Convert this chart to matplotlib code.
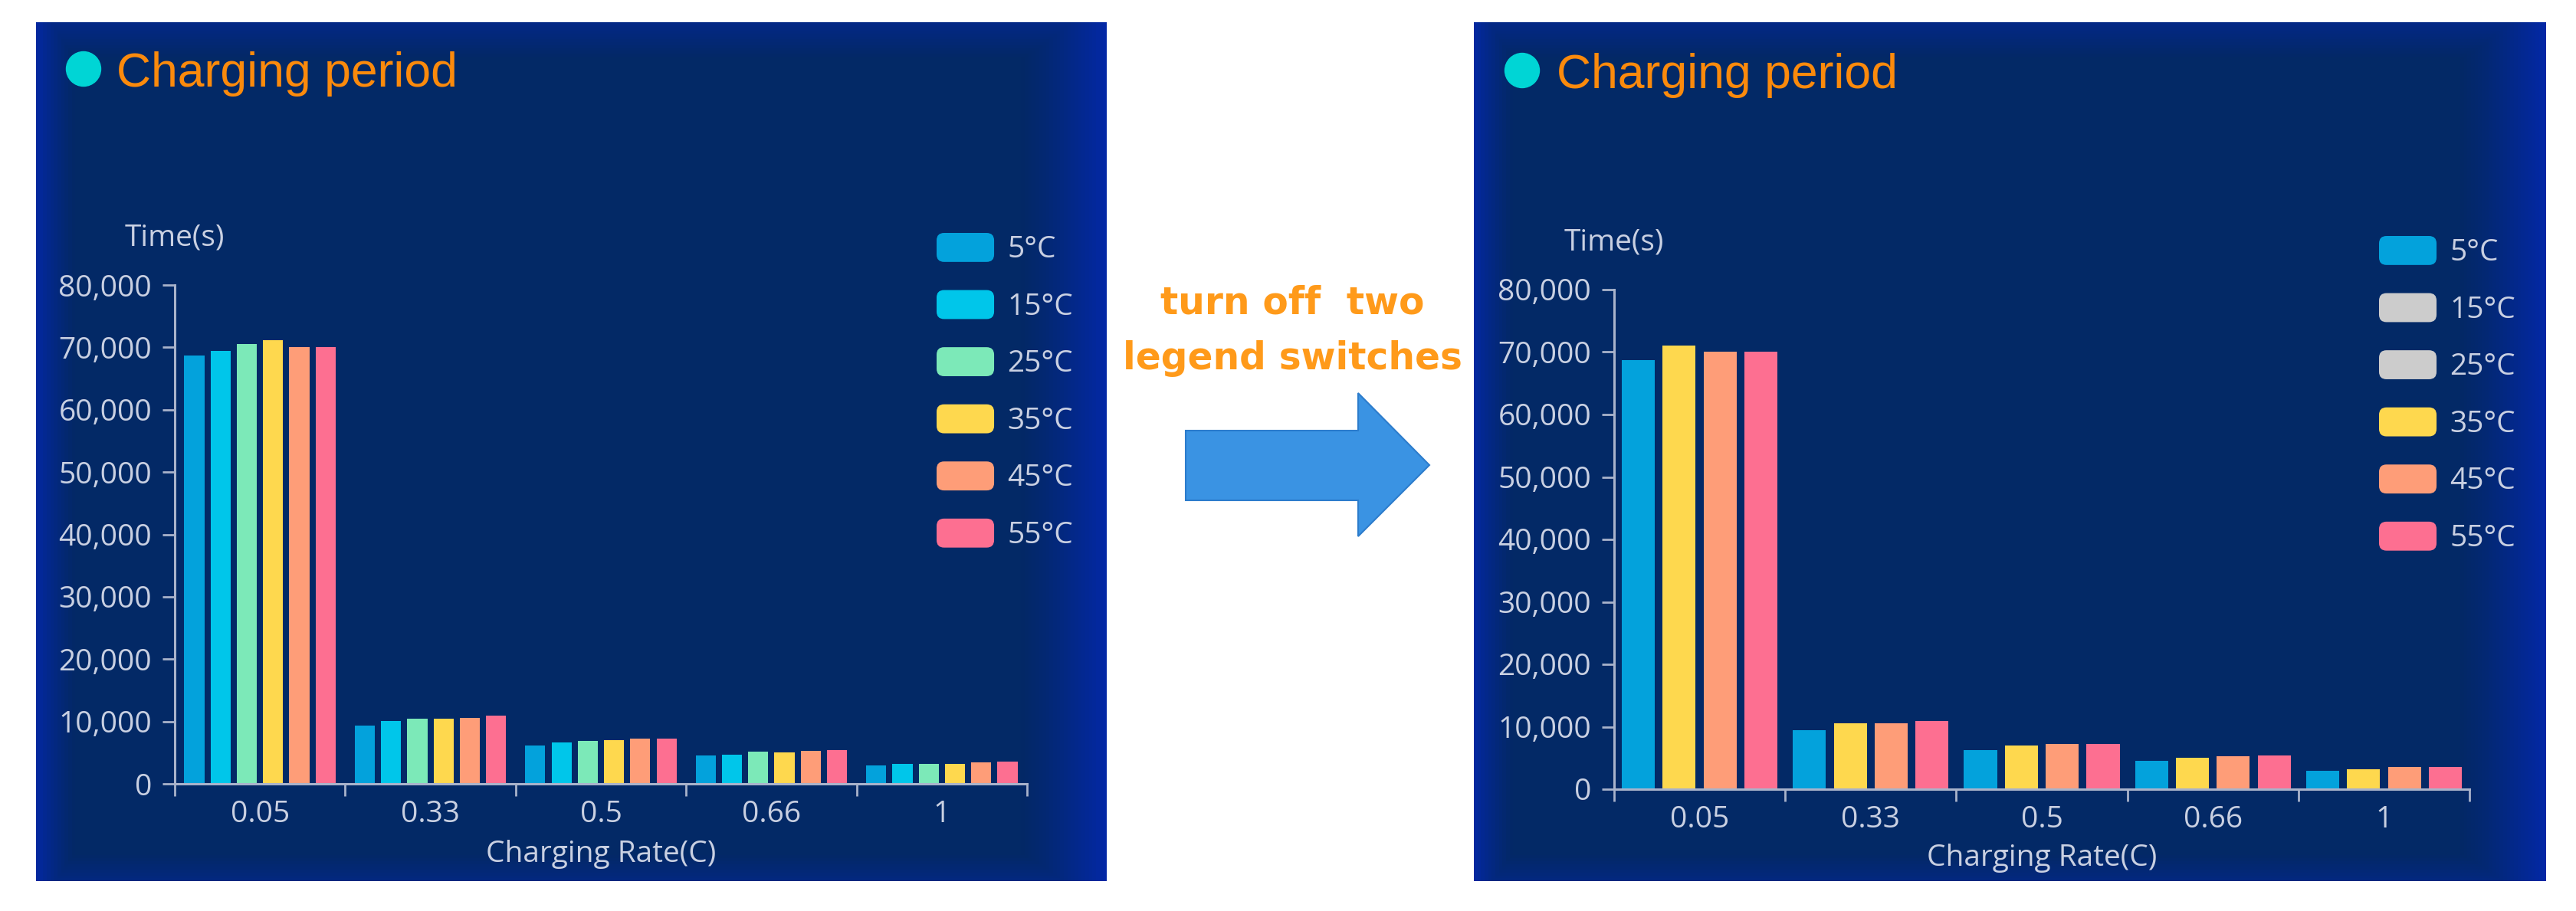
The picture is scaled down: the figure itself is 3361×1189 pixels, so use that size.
import numpy as np
import matplotlib
matplotlib.use('Agg')
import matplotlib.pyplot as plt
from matplotlib.patches import Patch, FancyBboxPatch, Polygon, Ellipse
from matplotlib.legend_handler import HandlerPatch
from matplotlib.ticker import FuncFormatter

# data (same data, two series hidden on the right)
rates = ['0.05', '0.33', '0.5', '0.66', '1']
temps = ['5°C', '15°C', '25°C', '35°C', '45°C', '55°C']
t5 = [68700, 9400, 6200, 4600, 2900]
t15 = [69400, 10100, 6600, 4700, 3150]
t25 = [70500, 10400, 6900, 5100, 3250]
t35 = [71100, 10500, 6950, 5000, 3250]
t45 = [70100, 10600, 7250, 5300, 3500]
t55 = [70100, 10900, 7300, 5450, 3550]
y_ticks = [0, 10000, 20000, 30000, 40000, 50000, 60000, 70000, 80000]
hidden_right = ['15°C', '25°C']

series = [t5, t15, t25, t35, t45, t55]
colors = ['#03a2dc', '#00c6ea', '#7ce9b8', '#fed84e', '#fe9d78', '#fd6f91']
off_color = '#cccccc'
txt_color = '#c9d0e2'
axis_color = '#a9b3cb'

W, H = 3361, 1189
fig = plt.figure(figsize=(W / 100, H / 100), dpi=100)
fig.patch.set_facecolor('white')

font = ['Open Sans', 'DejaVu Sans']


def box(x0, y0, x1, y1):
    # pixel box (top-left origin) -> figure fraction rect
    return [x0 / W, 1 - y1 / H, (x1 - x0) / W, (y1 - y0) / H]


def pt(x, y):
    return (x / W, 1 - y / H)


def rounded(legend, orig_handle, xdescent, ydescent, width, height, fontsize):
    return FancyBboxPatch((-xdescent, -ydescent), width, height,
                          boxstyle='round,pad=0,rounding_size=7')


def background(rect):
    bg = fig.add_axes(box(*rect), zorder=0)
    n = 300
    u, v = np.meshgrid(np.linspace(-1, 1, n), np.linspace(-1, 1, n))
    f = np.maximum.reduce([
        np.clip((u - 0.84) / 0.16, 0, 1) ** 1.3,
        np.clip((-u - 0.93) / 0.07, 0, 1) ** 1.2 * 0.9,
        np.clip((-v - 0.92) / 0.08, 0, 1) * 0.5,
        np.clip((v - 0.94) / 0.06, 0, 1) * 0.4,
    ])
    dark = np.array([3, 41, 102]) / 255
    bright = np.array([3, 40, 165]) / 255
    img = dark + f[..., None] * (bright - dark)
    bg.imshow(img, aspect='auto', extent=[0, 1, 0, 1])
    bg.axis('off')


def panel(rect, ax_rect, title_xy, legend_xy, hidden, bar_w, bar_gap, xlabel_y):
    background(rect)

    # title with cyan dot
    cx, cy, tx, ty = title_xy
    fig.add_artist(Ellipse(pt(cx, cy), 45 / W, 45 / H, color='#00d5d5', zorder=3))
    fig.text(tx / W, 1 - ty / H, 'Charging period', fontsize=45, color='#fb8a0c',
             family=['Liberation Sans', 'DejaVu Sans'], va='baseline', zorder=3)

    ax = fig.add_axes(box(*ax_rect), zorder=2)
    ax.set_facecolor('none')

    shown = [i for i, t in enumerate(temps) if t not in hidden]
    k = len(shown)
    x = np.arange(len(rates))
    stride = bar_w + bar_gap
    for j, i in enumerate(shown):
        off = (j - (k - 1) / 2) * stride
        ax.bar(x + off, series[i], width=bar_w, color=colors[i], zorder=2)

    ax.set_xlim(-0.5, len(rates) - 0.5)
    ax.set_ylim(0, 80000)
    ax.set_yticks(y_ticks)
    ax.yaxis.set_major_formatter(FuncFormatter(lambda val, p: f'{int(val):,}'))
    ax.set_xticks(x, rates)
    ax.set_xticks(np.arange(len(rates) + 1) - 0.5, minor=True)

    for s in ['top', 'right']:
        ax.spines[s].set_visible(False)
    for s in ['left', 'bottom']:
        ax.spines[s].set_color(axis_color)
        ax.spines[s].set_linewidth(2.2)

    ax.tick_params(axis='y', colors=axis_color, length=11.5, width=2, pad=10,
                   labelcolor=txt_color, labelsize=28)
    ax.tick_params(axis='x', which='major', length=0, pad=15,
                   labelcolor=txt_color, labelsize=28)
    ax.tick_params(axis='x', which='minor', length=11.5, width=2, color=axis_color)
    for lab in ax.get_xticklabels() + ax.get_yticklabels():
        lab.set_family(font)

    ax.set_xlabel('Charging Rate(C)', fontsize=28, color=txt_color, family=font)
    ax.xaxis.set_label_coords(0.5, xlabel_y)
    ax.xaxis.label.set_va('center')
    ax.text(0, 1.094, 'Time(s)', transform=ax.transAxes, ha='center', va='center',
            fontsize=28, color=txt_color, family=font)

    handles = [Patch(facecolor=(off_color if t in hidden else c), label=t)
               for t, c in zip(temps, colors)]
    ax.legend(handles=handles, loc='upper left', bbox_to_anchor=pt(*legend_xy),
              bbox_transform=fig.transFigure, frameon=False,
              prop={'family': font, 'size': 28}, labelcolor=txt_color,
              handlelength=1.93, handleheight=1.12, labelspacing=0.86,
              handletextpad=0.45, borderpad=0, borderaxespad=0,
              handler_map={Patch: HandlerPatch(patch_func=rounded)})
    return ax


panel((47, 29, 1444, 1150), (228, 372, 1340, 1023), (109, 90, 152, 113),
      (1222, 304), [], 0.118, 0.036, -0.141)
panel((1923, 29, 3322, 1150), (2106, 378, 3222, 1030), (1986, 92, 2031, 115),
      (3104, 308), hidden_right, 0.193, 0.046, -0.138)

# arrow and caption in the middle
arrow_px = [(1547, 562), (1772, 562), (1772, 513), (1865, 607),
            (1772, 700), (1772, 653), (1547, 653)]
fig.add_artist(Polygon([pt(a, b) for a, b in arrow_px], closed=True,
                       facecolor='#3a93e3', edgecolor='#2c7ccc', lw=1.5))
fig.text(1686 / W, 1 - 410 / H, 'turn off  two', ha='center', va='baseline',
         fontsize=35, weight='bold', color='#ff9a1a', family='DejaVu Sans')
fig.text(1686 / W, 1 - 482 / H, 'legend switches', ha='center', va='baseline',
         fontsize=35, weight='bold', color='#ff9a1a', family='DejaVu Sans')

fig.savefig('out.png', dpi=100)
